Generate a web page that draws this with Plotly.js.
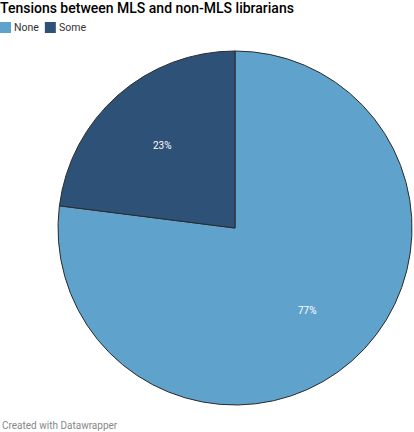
<!DOCTYPE html>
<html>
<head>
<meta charset="utf-8">
<script src="https://cdn.plot.ly/plotly-3.0.1.min.js"></script>
<style>
  html, body { margin: 0; padding: 0; background: #fff; }
  #chart { width: 414px; height: 432px; }
</style>
</head>
<body>
<div id="chart"></div>
<script>
const labels = ["None", "Some"];
const shares = [77, 23];
const sliceColors = ["#5fa3cd", "#2e5178"];

const W = 414, H = 432;
// pie box in pixels
const pieLeft = 58, pieRight = 412, pieTop = 51, pieBottom = 405;
const cx = (pieLeft + pieRight) / 2;
const cy = (pieTop + pieBottom) / 2;
const radius = (pieRight - pieLeft) / 2;
const labelRadius = radius * 0.62;

// percent labels placed at mid-angle of each slice
const total = shares.reduce((a, b) => a + b, 0);
let cum = 0;
const labelNotes = shares.map((v) => {
  const mid = ((cum + v / 2) / total) * 2 * Math.PI;
  cum += v;
  const px = cx + labelRadius * Math.sin(mid);
  const py = cy - labelRadius * Math.cos(mid);
  return {
    text: v + "%",
    xref: "paper",
    yref: "paper",
    x: px / W,
    y: 1 - py / H,
    xanchor: "center",
    yanchor: "middle",
    showarrow: false,
    font: { family: "Roboto", size: 10, color: "#ffffff" },
  };
});

// datawrapper style legend: small square + label, packed left to right
const legendFont = { family: "Roboto", size: 10.5, color: "#333" };
const measure = document.createElement("canvas").getContext("2d");
measure.font = legendFont.size + "px Roboto";
const legendShapes = [];
const legendNotes = [];
let lx = 0;
const ly = 27.5;
labels.forEach((lab, i) => {
  legendShapes.push({
    type: "rect",
    xref: "paper",
    yref: "paper",
    x0: lx / W,
    x1: (lx + 11) / W,
    y0: 1 - (ly + 5.5) / H,
    y1: 1 - (ly - 5.5) / H,
    fillcolor: sliceColors[i],
    line: { width: 0 },
  });
  legendNotes.push({
    text: lab,
    xref: "paper",
    yref: "paper",
    x: (lx + 13) / W,
    y: 1 - ly / H,
    xanchor: "left",
    yanchor: "middle",
    borderpad: 0,
    showarrow: false,
    font: legendFont,
  });
  lx += 13 + measure.measureText(lab).width + 7;
});

const pieData = [
  {
    type: "pie",
    labels: labels,
    values: shares,
    sort: false,
    direction: "clockwise",
    rotation: 0,
    textinfo: "none",
    marker: {
      colors: sliceColors,
      line: { color: "#2b2b2b", width: 1 },
    },
    hoverinfo: "none",
    domain: { x: [pieLeft / W, pieRight / W], y: [1 - pieBottom / H, 1 - pieTop / H] },
  },
];

const layout = {
  width: W,
  height: H,
  margin: { t: 0, l: 0, r: 0, b: 0 },
  paper_bgcolor: "#ffffff",
  font: { family: "Roboto", color: "#333" },
  title: {
    text: "Tensions between MLS and non-MLS librarians",
    font: { family: "Roboto", size: 14, color: "#000", weight: 500 },
    xref: "container",
    yref: "container",
    x: 0,
    xanchor: "left",
    y: 1 - 8 / H,
    yanchor: "middle",
  },
  showlegend: false,
  shapes: legendShapes,
  annotations: labelNotes.concat(legendNotes, [
    {
      text: "Created with Datawrapper",
      xref: "paper",
      yref: "paper",
      x: 0,
      xanchor: "left",
      y: 7 / H,
      yanchor: "middle",
      showarrow: false,
      font: { family: "Roboto", size: 10, color: "#888" },
    },
  ]),
};

Plotly.newPlot("chart", pieData, layout, { displayModeBar: false, staticPlot: true });
</script>
</body>
</html>
